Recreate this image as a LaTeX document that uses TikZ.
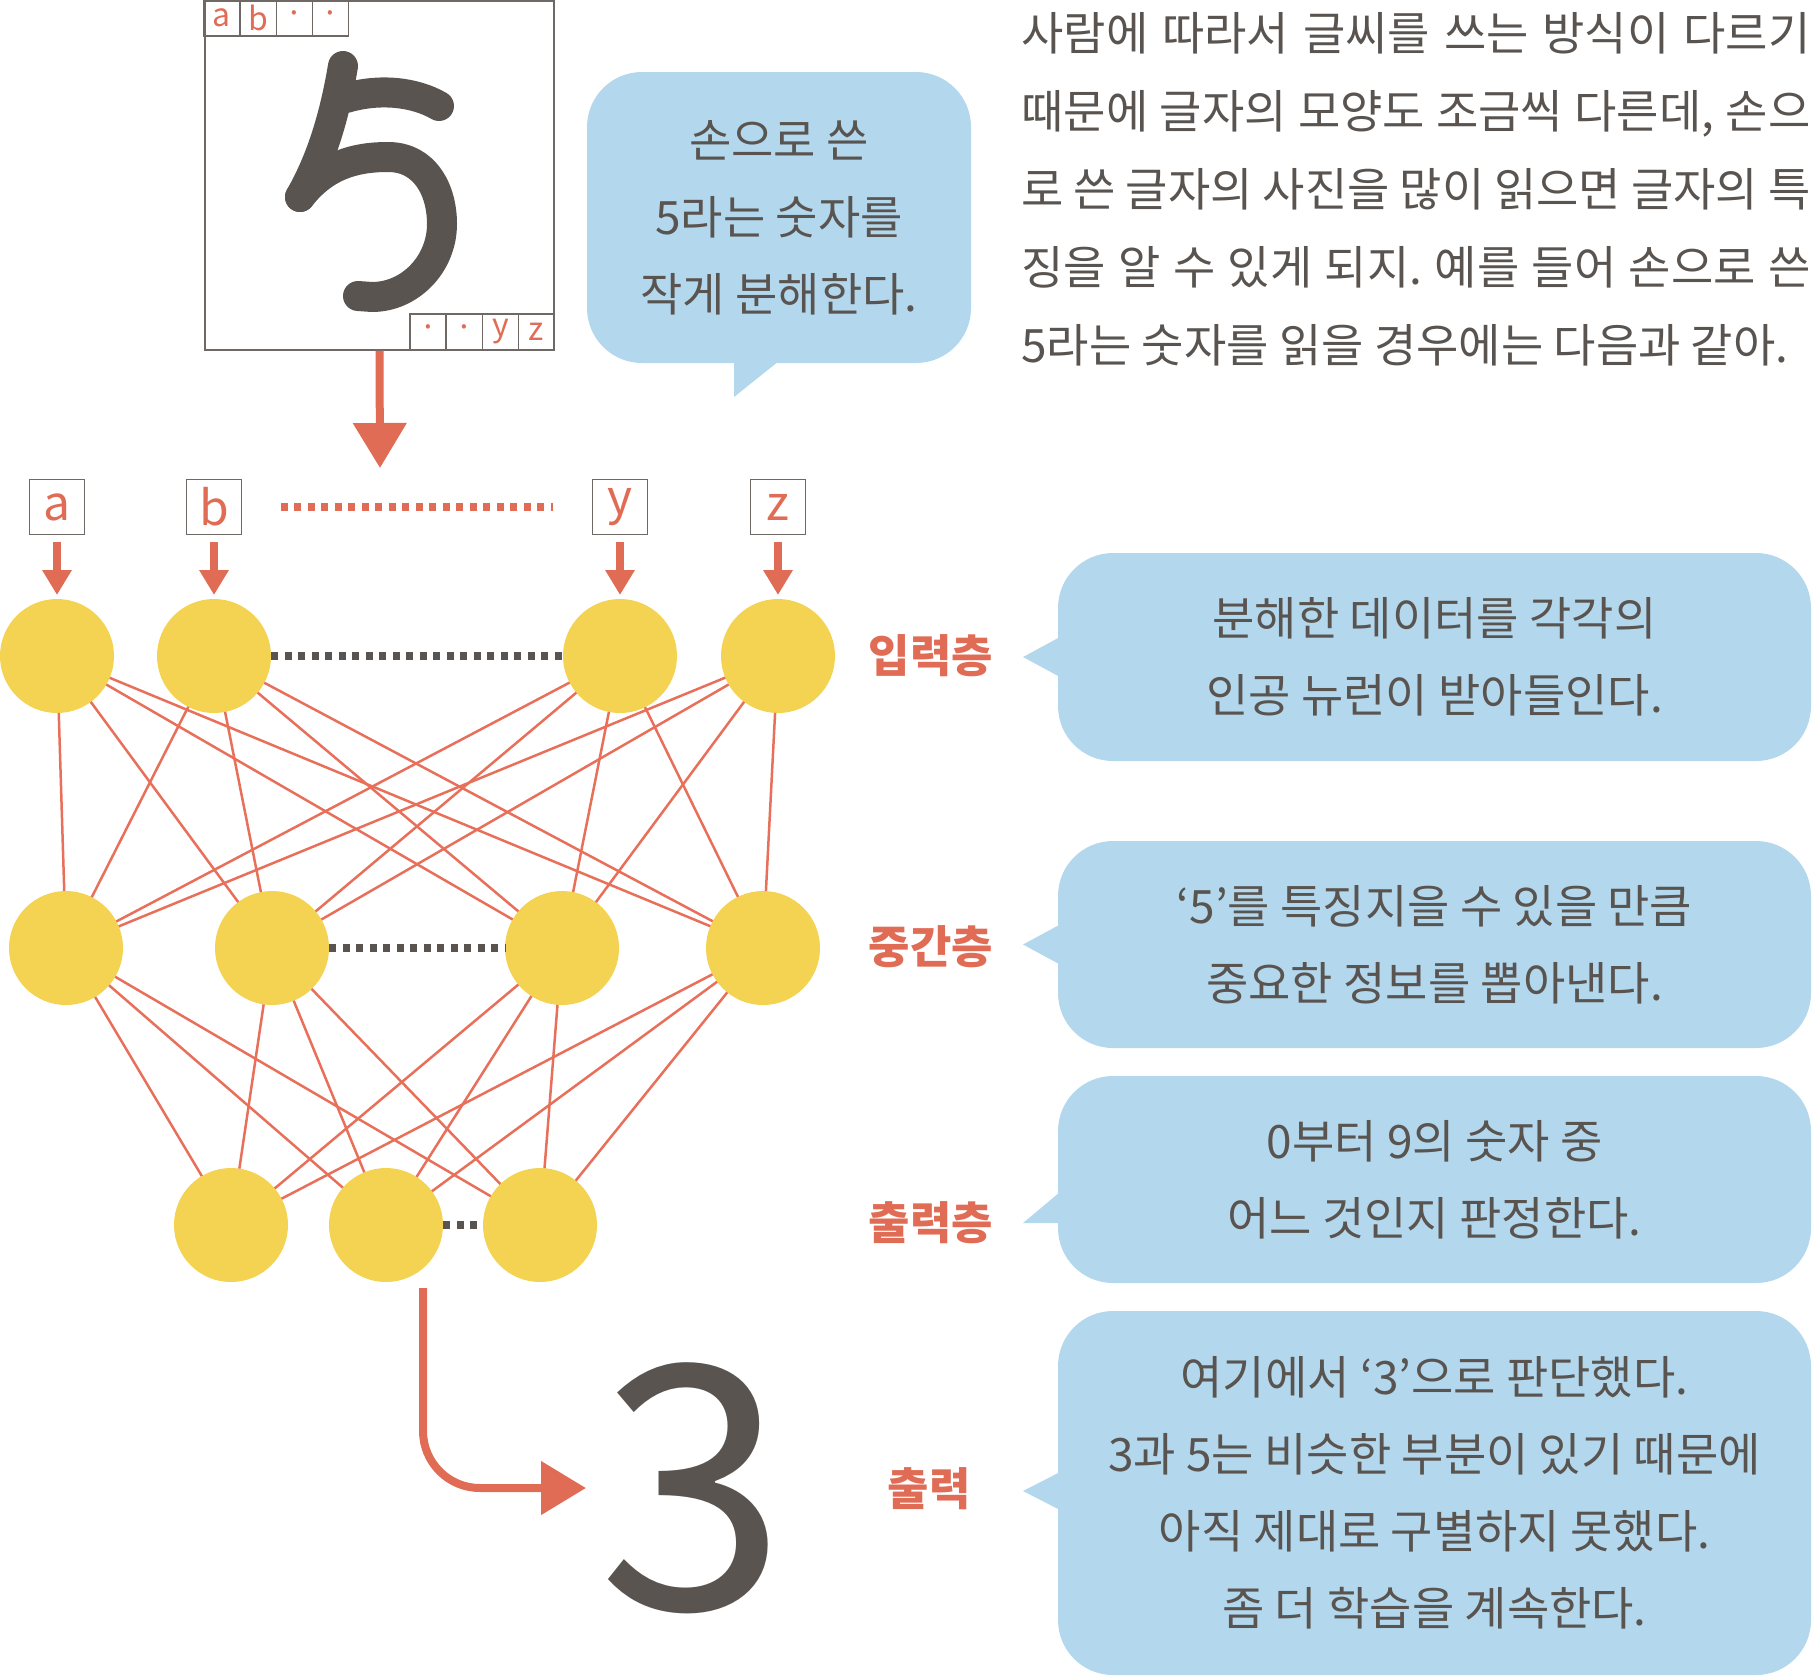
\documentclass[tikz,border=0pt]{standalone}
\usepackage{fontspec}
\setmainfont{Noto Sans CJK KR}
\usetikzlibrary{arrows.meta}
\frenchspacing
\definecolor{inkgray}{HTML}{595450}
\definecolor{framegray}{HTML}{6E6965}
\definecolor{coral}{HTML}{E06C55}
\definecolor{wirered}{HTML}{E8705A}
\definecolor{sunny}{HTML}{F5D352}
\definecolor{skyblue}{HTML}{B3D8EE}
\newcommand{\neuron}[3]{\node[neuron] (#1) at (#2,#3) {};}
\newcommand{\pixcell}[4]{\node[pixcell] (#1) at (#2,#3) {#4};}
\newcommand{\inbox}[4]{\node[inbox] (#1) at (#2,#3) {#4};}

\begin{document}
\begin{tikzpicture}[x=0.5pt,y=-0.5pt,
  neuron/.style={circle,fill=sunny,minimum size=57pt,inner sep=0pt,outer sep=0pt},
  inbox/.style={draw=framegray,line width=0.75pt,minimum size=27.5pt,inner sep=0pt,text=coral,font=\fontsize{24}{24}\selectfont},
  pixcell/.style={draw=framegray,line width=0.75pt,minimum size=18pt,inner sep=0pt,text=coral,font=\fontsize{16}{16}\selectfont},
  bubble/.style={fill=skyblue,rounded corners=27.5pt,inner sep=0pt,outer sep=0pt,text=inkgray,align=center,font=\fontsize{23}{38.5}\selectfont},
  layername/.style={text=coral,font=\fontsize{22.5}{22.5}\selectfont\bfseries},
  wire/.style={wirered,line width=1.25pt},
  graydots/.style={inkgray,line width=4pt,dash pattern=on 3.5pt off 3.25pt},
  reddots/.style={coral,line width=4pt,dash pattern=on 3.5pt off 3.25pt,shorten <=19.25pt,shorten >=19.5pt},
  bigarrow/.style={coral,line width=4pt,-{Triangle[length=22.5pt,width=26pt]}},
  smallarrow/.style={coral,line width=4pt,-{Triangle[length=12.5pt,width=14pt]}},
  fivestroke/.style={inkgray,line width=15pt,line cap=round,line join=round}]
\useasboundingbox (0,0) rectangle (1813,1676);
% handwritten digit
\node[draw=framegray,line width=0.75pt,minimum width=174.5pt,minimum height=174.5pt,inner sep=0pt] (digit) at (379.5,175.5) {};
\draw[fivestroke] (343,66) .. controls (334,120) and (320,162) .. (300,197);
\draw[fivestroke] (346,98) .. controls (380,88) and (415,92) .. (439,106);
\draw[fivestroke] (300,197) .. controls (325,165) and (355,157) .. (388,157) .. controls (425,157) and (442,190) .. (442,224) .. controls (442,264) and (410,297) .. (372,297) -- (358,296);
\pixcell{ca}{222}{18}{a}
\pixcell{cb}{258.3}{18}{b}
\pixcell{cc}{294.7}{18}{·}
\pixcell{cd}{330.3}{18}{·}
\pixcell{cw}{428}{332}{·}
\pixcell{cx}{464.5}{332}{·}
\pixcell{cy}{500.5}{332}{y}
\pixcell{cz}{536.5}{332}{z}
\coordinate (feed) at (380,468);
\draw[bigarrow] (digit.south) -- (feed);
% speech bubble and text
\node[bubble,minimum width=192pt,minimum height=145.5pt] (b1) at (779,217.5) {손으로 쓴\\5라는 숫자를\\작게 분해한다.};
\fill[skyblue] (b1.south) ++(-45,-2) -- ++(0,36) -- ++(45,-36) -- cycle;
\node[anchor=north west,inner sep=0pt,align=left,text=inkgray,font=\fontsize{23}{39}\selectfont] (story) at (1021,12)
  {\makebox[394.5pt][s]{사람에 따라서 글씨를 쓰는 방식이 다르기}\\
   \makebox[394.5pt][s]{때문에 글자의 모양도 조금씩 다른데, 손으}\\
   \makebox[394.5pt][s]{로 쓴 글자의 사진을 많이 읽으면 글자의 특}\\
   \makebox[394.5pt][s]{징을 알 수 있게 되지. 예를 들어 손으로 쓴}\\
   5라는 숫자를 읽을 경우에는 다음과 같아.};
% input boxes
\inbox{ba}{57}{507}{a}
\inbox{bb}{214}{507}{b}
\inbox{by}{620}{507}{y}
\inbox{bz}{778}{507}{z}
\draw[reddots] (bb) -- (by);
% network
\neuron{ia}{57}{656}
\neuron{ib}{214}{656}
\neuron{iy}{620}{656}
\neuron{iz}{778}{656}
\neuron{h1}{66}{948}
\neuron{h2}{272}{948}
\neuron{h3}{562}{948}
\neuron{h4}{763}{948}
\neuron{o1}{231}{1225}
\neuron{o2}{386}{1225}
\neuron{o3}{540}{1225}
\draw[smallarrow,shorten <=3.5pt,shorten >=2pt] (ba) -- (ia);
\draw[smallarrow,shorten <=3.5pt,shorten >=2pt] (bb) -- (ib);
\draw[smallarrow,shorten <=3.5pt,shorten >=2pt] (by) -- (iy);
\draw[smallarrow,shorten <=3.5pt,shorten >=2pt] (bz) -- (iz);
\draw[wire] (ia)--(h1) (ia)--(h2) (ia)--(h3) (ia)--(h4);
\draw[wire] (ib)--(h1) (ib)--(h2) (ib)--(h3) (ib)--(h4);
\draw[wire] (iy)--(h1) (iy)--(h2) (iy)--(h3) (iy)--(h4);
\draw[wire] (iz)--(h1) (iz)--(h2) (iz)--(h3) (iz)--(h4);
\draw[wire] (h1)--(o1) (h1)--(o2) (h1)--(o3);
\draw[wire] (h2)--(o1) (h2)--(o2) (h2)--(o3);
\draw[wire] (h3)--(o1) (h3)--(o2) (h3)--(o3);
\draw[wire] (h4)--(o1) (h4)--(o2) (h4)--(o3);
\draw[graydots] (ib) -- (iy);
\draw[graydots] (h2) -- (h3);
\draw[graydots] (o2) -- (o3);
% result
\node[anchor=west,inner xsep=6pt,inner ysep=0pt,outer sep=0pt,text=inkgray,font=\fontsize{170}{170}\selectfont] (three) at (586,1488) {3};
\draw[bigarrow,rounded corners=28.5pt] ([xshift=18.5pt,yshift=-3pt]o2.south) |- (three.west);
% layer labels and notes
\node[layername] (lin) at (931,656) {입력층};
\node[layername] (lhid) at (931,947) {중간층};
\node[layername] (lout) at (931,1223) {출력층};
\node[layername] (lres) at (929,1489) {출력};
\node[bubble,minimum width=376.5pt,minimum height=104pt] (b2) at (1434.5,657) {분해한 데이터를 각각의\\인공 뉴런이 받아들인다.};
\fill[skyblue] (b2.west) ++(2,-20) -- ++(-37,20) -- ++(37,20) -- cycle;
\node[bubble,minimum width=376.5pt,minimum height=103.5pt] (b3) at (1434.5,944.5) {‘5’를 특징지을 수 있을 만큼\\중요한 정보를 뽑아낸다.};
\fill[skyblue] (b3.west) ++(2,-20) -- ++(-37,20) -- ++(37,20) -- cycle;
\node[bubble,minimum width=376.5pt,minimum height=103.5pt] (b4) at (1434.5,1179.5) {0부터 9의 숫자 중\\어느 것인지 판정한다.};
\fill[skyblue] (b4.west) ++(2,12.5) -- ++(-37,31) -- ++(37,0) -- cycle;
\node[bubble,minimum width=376.5pt,minimum height=182pt] (b5) at (1434.5,1493) {여기에서 ‘3’으로 판단했다.\\3과 5는 비슷한 부분이 있기 때문에\\아직 제대로 구별하지 못했다.\\좀 더 학습을 계속한다.};
\fill[skyblue] (b5.west) ++(2,-21) -- ++(-37,19) -- ++(37,19) -- cycle;
\end{tikzpicture}
\end{document}
